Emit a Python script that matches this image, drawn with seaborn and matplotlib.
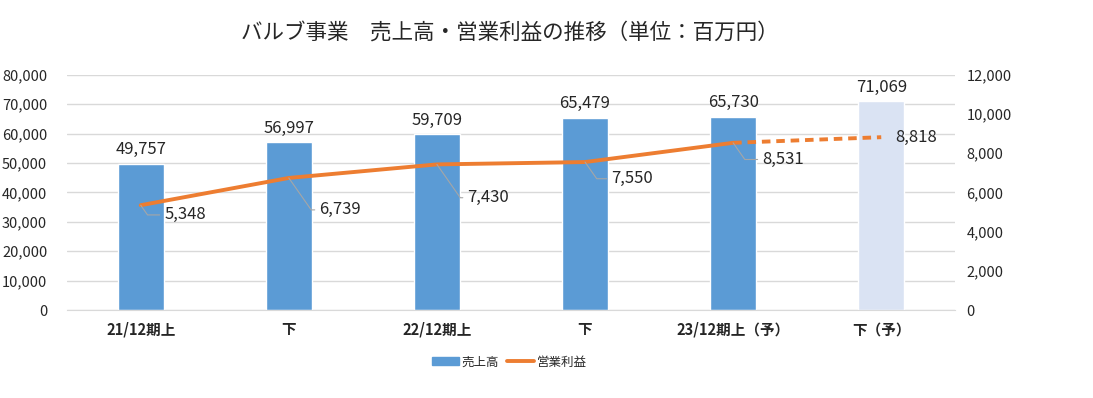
import numpy as np
import pandas as pd
import matplotlib
matplotlib.use("Agg")
import matplotlib.pyplot as plt
import seaborn as sns
from matplotlib.patches import Patch
from matplotlib.lines import Line2D

periods = ["21/12期上", "下", "22/12期上", "下", "23/12期上（予）", "下（予）"]
sales = [49757, 56997, 59709, 65479, 65730, 71069]
profit = [5348, 6739, 7430, 7550, 8531, 8818]
bar_colors = ["#5b9bd5", "#5b9bd5", "#5b9bd5", "#5b9bd5", "#5b9bd5", "#dae3f3"]
# label offsets (points) for the operating-profit labels
label_offsets = [(17, -7), (22, -23), (22, -24), (19, -12), (21, -12), (10, 0)]

sns.set_style("white")
plt.rcParams["font.family"] = ["Noto Sans CJK JP", "DejaVu Sans"]

fig = plt.figure(figsize=(10.93, 3.98), dpi=100)
ax = fig.add_axes([0.061, 0.221, 0.813, 0.591])

df = pd.DataFrame({"pos": range(len(periods)), "sales": sales})
sns.barplot(data=df, x="pos", y="sales", hue="pos", palette=bar_colors,
            width=0.31, legend=False, ax=ax, saturation=1)
ax.set_xlim(-0.5, len(periods) - 0.5)
ax.set_ylim(0, 80000)
ax.set_yticks(np.arange(0, 80001, 10000))
ax.yaxis.set_major_formatter(matplotlib.ticker.FuncFormatter(lambda v, p: f"{int(v):,}"))
ax.set_xticks(range(len(periods)))
ax.set_xticklabels(periods, fontsize=10.5, fontweight="bold")
ax.tick_params(axis="y", labelsize=10.5, length=0, pad=14)
ax.tick_params(axis="x", length=0, pad=8)
ax.set_xlabel("")
ax.set_ylabel("")
ax.grid(axis="y", color="#d9d9d9", lw=1)
ax.set_axisbelow(True)
for s in ["top", "left", "right"]:
    ax.spines[s].set_visible(False)
ax.spines["bottom"].set_color("#d9d9d9")

for cont in ax.containers:
    ax.bar_label(cont, labels=[f"{int(round(v)):,}" for v in cont.datavalues], padding=4, fontsize=12)

ax2 = ax.twinx()
pos = np.arange(len(periods))
sns.lineplot(x=pos[:5], y=profit[:5], color="#ed7d31", lw=2.8, ax=ax2)
sns.lineplot(x=pos[4:], y=profit[4:], color="#ed7d31", lw=2.8, ax=ax2, linestyle=(0, (2.2, 1.5)))
ax2.set_ylim(0, 12000)
ax2.set_yticks(np.arange(0, 12001, 2000))
ax2.yaxis.set_major_formatter(matplotlib.ticker.FuncFormatter(lambda v, p: f"{int(v):,}"))
ax2.tick_params(axis="y", labelsize=10.5, length=0, pad=8)
for s in ["top", "left", "right", "bottom"]:
    ax2.spines[s].set_visible(False)
ax2.set_xlim(-0.5, len(periods) - 0.5)

for i, v in enumerate(profit):
    off = label_offsets[i]
    if off[1] == 0:
        ax2.annotate(f"{v:,}", (i, v), xytext=off, textcoords="offset points",
                     ha="left", va="center", fontsize=12)
    else:
        ax2.annotate(f"{v:,}", (i, v), xytext=off, textcoords="offset points",
                     ha="left", va="center", fontsize=12,
                     arrowprops=dict(arrowstyle="-", color="#a6a6a6", lw=0.8,
                                     shrinkA=1, shrinkB=0,
                                     connectionstyle="angle,angleA=0,angleB=-55,rad=0"))

fig.text(0.466, 0.917, "バルブ事業　売上高・営業利益の推移（単位：百万円）", ha="center", va="center", fontsize=15.5)

handles = [Patch(color="#5b9bd5", label="売上高"),
           Line2D([0], [0], color="#ed7d31", lw=2.8, label="営業利益")]
fig.legend(handles=handles, loc="center", bbox_to_anchor=(0.466, 0.09), ncol=2, frameon=False,
           fontsize=9, handlelength=2.2, handleheight=0.6, columnspacing=0.6, handletextpad=0.2)

fig.savefig("out.png", dpi=100)
